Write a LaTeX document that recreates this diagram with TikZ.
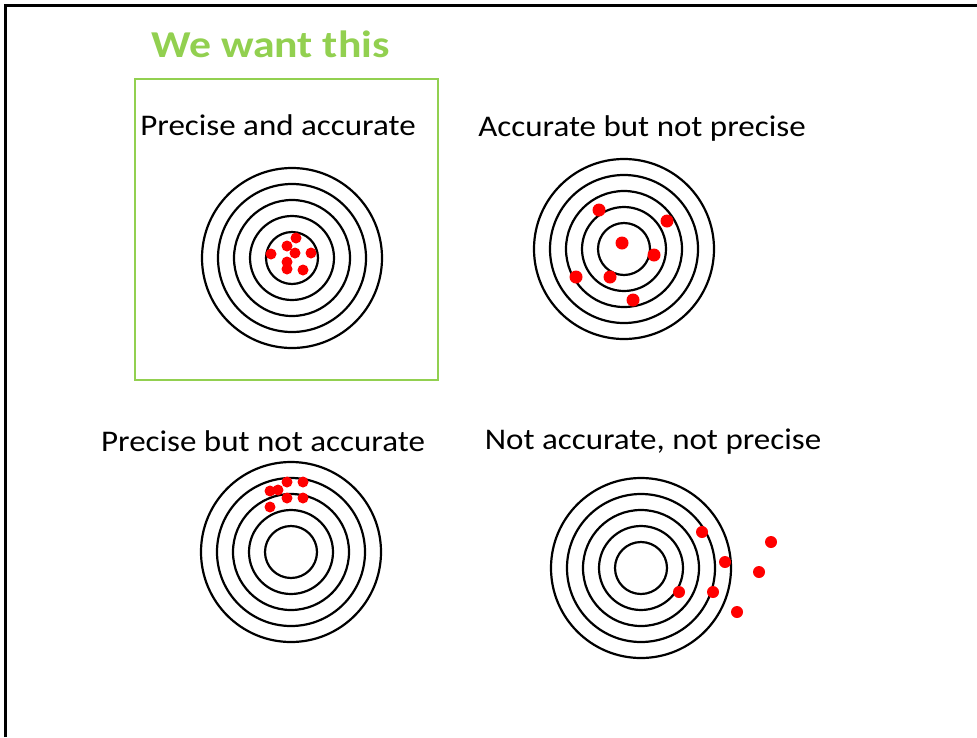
\documentclass[tikz,border=0pt]{standalone}
\usepackage{fontspec}
\setmainfont[FakeStretch=1.1]{Carlito}
\newfontfamily\wantfont[FakeStretch=1.15]{Carlito}
\usepackage{tikz}
\usepackage{xcolor}
\usetikzlibrary{positioning}

\definecolor{wantgreen}{HTML}{92D050}
\definecolor{hitred}{HTML}{FF0000}

\begin{document}
\begin{tikzpicture}[x=1pt,y=-1pt,
  ring/.style={line width=2.2pt},
  hit/.style={fill=hitred},
  caption/.style={font=\fontsize{30}{36}\selectfont,anchor=base}]
\useasboundingbox (0,0) rectangle (977,737);
% frame along the top and left edge
\draw[line width=2.5pt] (5.5,737) -- (5.5,5.5) -- (977,5.5);

% centres of the four targets
\coordinate (PA) at (292,258);
\coordinate (AP) at (624,249);
\coordinate (PN) at (291,552);
\coordinate (NN) at (641,568);

\foreach \c in {PA,AP,PN,NN}
  \foreach \r in {26,42,58,74,90}
    \draw[ring] (\c) circle[radius=\r pt];

% the one we want
\node[anchor=base west,font=\wantfont\fontsize{38}{44}\selectfont\bfseries,text=wantgreen,inner sep=0pt] (want) at (151,57) {We want this};
\draw[wantgreen,line width=2.8pt] (135,79) rectangle (438,380);

\node[caption] (capPA) at (278,135) {Precise and accurate};
\node[caption] (capAP) at (642,136) {Accurate but not precise};
\node[caption] (capPN) at (263,451) {Precise but not accurate};
\node[caption] (capNN) at (653,449) {Not accurate, not precise};

% hits
\foreach \x/\y in {296/238,287/246,271/254,295/253,311/253,287/262,287/269,303/270}
  \fill[hit] (\x,\y) circle[radius=5.5pt];
\foreach \x/\y in {599/210,667/221,622/243,654/255,576/277,610/277,633/300}
  \fill[hit] (\x,\y) circle[radius=6.5pt];
\foreach \x/\y in {287/482,303/482,270/491,278/490,287/498,303/498,270/507}
  \fill[hit] (\x,\y) circle[radius=5.5pt];
\foreach \x/\y in {702/532,771/542,725/562,759/572,679/592,713/592,737/612}
  \fill[hit] (\x,\y) circle[radius=6pt];
\end{tikzpicture}
\end{document}
